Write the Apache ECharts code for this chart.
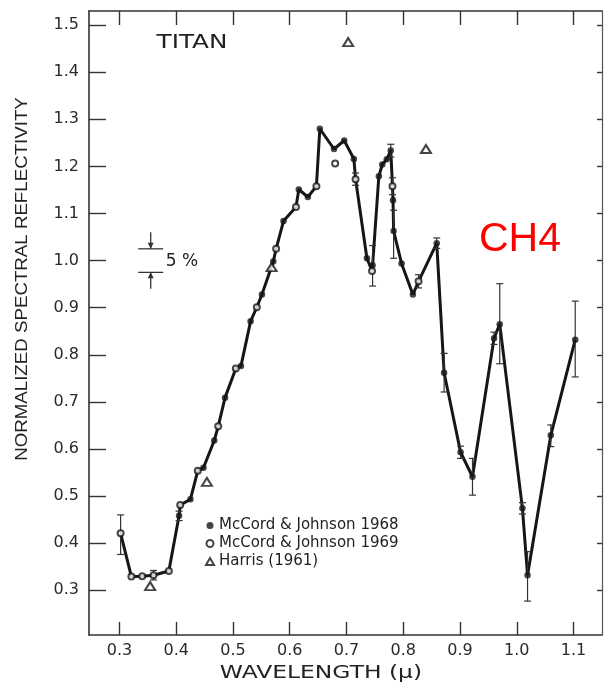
<!DOCTYPE html>
<html>
<head>
<meta charset="utf-8">
<script src="https://cdn.jsdelivr.net/npm/echarts@6/dist/echarts.min.js"></script>
<style>
  html, body { margin: 0; padding: 0; background: #fff; }
  #chart { width: 616px; height: 684px; }
</style>
</head>
<body>
<div id="chart"></div>
<script>
// Axis tick values
const xTicks = [0.3, 0.4, 0.5, 0.6, 0.7, 0.8, 0.9, 1.0, 1.1];
const yTicks = [0.3, 0.4, 0.5, 0.6, 0.7, 0.8, 0.9, 1.0, 1.1, 1.2, 1.3, 1.4, 1.5];

// [wavelength (micron), normalized reflectivity]
const mj1968 = [
  [0.405, 0.458], [0.425, 0.493], [0.448, 0.560], [0.467, 0.618], [0.486, 0.709],
  [0.514, 0.776], [0.531, 0.871], [0.551, 0.928], [0.571, 0.998], [0.589, 1.084],
  [0.616, 1.151], [0.632, 1.135], [0.653, 1.280], [0.678, 1.237], [0.696, 1.255],
  [0.713, 1.216], [0.736, 1.005], [0.746, 0.990], [0.757, 1.179], [0.763, 1.204],
  [0.771, 1.215], [0.778, 1.234], [0.782, 1.128], [0.783, 1.063], [0.797, 0.994],
  [0.817, 0.928], [0.859, 1.037], [0.872, 0.762], [0.901, 0.593], [0.922, 0.541],
  [0.960, 0.835], [0.970, 0.865], [1.010, 0.474], [1.019, 0.332], [1.060, 0.629],
  [1.103, 0.832]
];
const mj1969 = [
  [0.302, 0.421], [0.321, 0.329], [0.340, 0.330], [0.360, 0.332], [0.387, 0.341],
  [0.407, 0.481], [0.438, 0.554], [0.474, 0.648], [0.505, 0.771], [0.542, 0.901],
  [0.576, 1.025], [0.611, 1.114], [0.647, 1.158], [0.680, 1.206], [0.716, 1.173],
  [0.745, 0.978], [0.781, 1.158], [0.827, 0.956]
];
const harris1961 = [
  [0.354, 0.309], [0.454, 0.530], [0.568, 0.986], [0.703, 1.464], [0.840, 1.237]
];
// 1969 readings plotted beside the curve rather than on it (wavelengths)
const offCurve = [0.680];

// [wavelength, low, high]
const errorBars = [
  [0.302, 0.376, 0.460], [0.360, 0.322, 0.342], [0.405, 0.448, 0.468],
  [0.716, 1.160, 1.186], [0.746, 0.946, 1.032], [0.778, 1.220, 1.247],
  [0.781, 1.140, 1.176], [0.783, 1.005, 1.107], [0.827, 0.942, 0.970],
  [0.859, 1.026, 1.048], [0.872, 0.721, 0.803], [0.901, 0.580, 0.606],
  [0.922, 0.502, 0.580], [0.960, 0.822, 0.848], [0.970, 0.781, 0.951],
  [1.010, 0.462, 0.486], [1.019, 0.277, 0.382], [1.060, 0.605, 0.651],
  [1.103, 0.753, 0.914]
];

// Continuous trace through both McCord & Johnson data sets
const curve = mj1968
  .concat(mj1969.filter(p => offCurve.indexOf(p[0]) < 0))
  .sort((a, b) => a[0] - b[0]);

const INK = '#161616';
const FONT = '"DejaVu Sans", sans-serif';

const chart = echarts.init(document.getElementById('chart'), null, { renderer: 'canvas' });

const fmt = v => v.toFixed(1);

const option = {
  backgroundColor: '#fff',
  animation: false,
  grid: { left: 89, right: 14, top: 11, bottom: 49, containLabel: false },
  xAxis: [
    {
      type: 'value', position: 'bottom', min: 0.2463, max: 1.1502,
      axisLine: { show: true, onZero: false, lineStyle: { color: '#333', width: 1.6 } },
      axisTick: { show: true, inside: true, length: 13, customValues: xTicks, lineStyle: { color: '#333', width: 1.4 } },
      axisLabel: { customValues: xTicks, formatter: fmt, color: '#2a2a2a', fontSize: 16, fontFamily: FONT, margin: 8 },
      splitLine: { show: false }
    },
    {
      type: 'value', position: 'top', min: 0.2463, max: 1.1502,
      axisLine: { show: true, onZero: false, lineStyle: { color: '#333', width: 1.6 } },
      axisTick: { show: true, inside: true, length: 14, customValues: xTicks, lineStyle: { color: '#333', width: 1.4 } },
      axisLabel: { show: false },
      splitLine: { show: false }
    }
  ],
  yAxis: [
    {
      type: 'value', position: 'left', min: 0.205, max: 1.53,
      axisLine: { show: true, onZero: false, lineStyle: { color: '#333', width: 1.6 } },
      axisTick: { show: true, inside: true, length: 17, customValues: yTicks, lineStyle: { color: '#333', width: 1.4 } },
      axisLabel: { customValues: yTicks, formatter: fmt, color: '#2a2a2a', fontSize: 16, fontFamily: FONT, margin: 10 },
      splitLine: { show: false }
    },
    {
      type: 'value', position: 'right', min: 0.205, max: 1.53,
      axisLine: { show: true, onZero: false, lineStyle: { color: '#555', width: 1.2 } },
      axisTick: { show: true, inside: true, length: 5, customValues: yTicks, lineStyle: { color: '#333', width: 1.4 } },
      axisLabel: { show: false },
      splitLine: { show: false }
    }
  ],
  legend: {
    orient: 'vertical', left: 200, top: 513, itemGap: 3,
    itemWidth: 8, itemHeight: 7,
    textStyle: { fontSize: 15, fontFamily: FONT, color: '#222', lineHeight: 15 },
    data: [
      { name: 'McCord & Johnson 1968', icon: 'circle' },
      { name: 'McCord & Johnson 1969', icon: 'emptyCircle' },
      { name: 'Harris (1961)', icon: 'emptyTriangle' }
    ]
  },
  graphic: [
    {
      type: 'text', x: 192, y: 43, scaleX: 1.3,
      style: { text: 'TITAN', font: '19px ' + FONT, fill: '#222', align: 'center', verticalAlign: 'middle' }
    },
    {
      type: 'text', x: 321, y: 673, scaleX: 1.3,
      style: { text: 'WAVELENGTH (\u03bc)', font: '18px ' + FONT, fill: '#222', align: 'center', verticalAlign: 'middle' }
    },
    {
      type: 'text', x: 22, y: 279, rotation: Math.PI / 2, scaleX: 1.1,
      style: { text: 'NORMALIZED SPECTRAL REFLECTIVITY', font: '17px "Liberation Sans", sans-serif', fill: '#222', align: 'center', verticalAlign: 'middle' }
    },
    {
      type: 'text', x: 182, y: 262,
      style: { text: '5 %', font: '17px ' + FONT, fill: '#222', align: 'center', verticalAlign: 'middle' }
    },
    {
      type: 'text', x: 520, y: 240,
      style: { text: 'CH4', font: '41px "Liberation Sans", sans-serif', fill: '#ff0000', align: 'center', verticalAlign: 'middle' }
    }
  ],
  series: [
    {
      name: 'trace', type: 'line', data: curve, symbol: 'none', z: 2,
      lineStyle: { color: INK, width: 3 }, silent: true
    },
    {
      name: 'errors', type: 'custom', data: errorBars, z: 3, silent: true,
      encode: { x: 0, y: [1, 2] },
      renderItem: function (params, api) {
        const w = api.value(0);
        const lo = api.coord([w, api.value(1)]);
        const hi = api.coord([w, api.value(2)]);
        const cap = 3.5;
        const st = { stroke: '#333', lineWidth: 1.2 };
        return {
          type: 'group',
          children: [
            { type: 'line', shape: { x1: lo[0], y1: lo[1], x2: hi[0], y2: hi[1] }, style: st },
            { type: 'line', shape: { x1: lo[0] - cap, y1: lo[1], x2: lo[0] + cap, y2: lo[1] }, style: st },
            { type: 'line', shape: { x1: hi[0] - cap, y1: hi[1], x2: hi[0] + cap, y2: hi[1] }, style: st }
          ]
        };
      }
    },
    {
      name: '5% scale', type: 'custom', data: [[0.355, 1.0]], z: 3, silent: true,
      renderItem: function (params, api) {
        const w = api.value(0), c = api.value(1);
        const a = api.coord([w - 0.022, c + 0.025]);
        const b = api.coord([w + 0.022, c + 0.025]);
        const d = api.coord([w - 0.022, c - 0.025]);
        const e = api.coord([w + 0.022, c - 0.025]);
        const top = api.coord([w, c + 0.06]);
        const bot = api.coord([w, c - 0.06]);
        const st = { stroke: '#333', lineWidth: 1.3 };
        const head = 3;
        return {
          type: 'group',
          children: [
            { type: 'line', shape: { x1: a[0], y1: a[1], x2: b[0], y2: b[1] }, style: st },
            { type: 'line', shape: { x1: d[0], y1: d[1], x2: e[0], y2: e[1] }, style: st },
            { type: 'line', shape: { x1: top[0], y1: top[1], x2: top[0], y2: a[1] }, style: st },
            { type: 'line', shape: { x1: bot[0], y1: bot[1], x2: bot[0], y2: d[1] }, style: st },
            { type: 'polygon', shape: { points: [[top[0] - head, a[1] - 6], [top[0] + head, a[1] - 6], [top[0], a[1]]] }, style: { fill: '#333' } },
            { type: 'polygon', shape: { points: [[bot[0] - head, d[1] + 6], [bot[0] + head, d[1] + 6], [bot[0], d[1]]] }, style: { fill: '#333' } }
          ]
        };
      }
    },
    {
      name: 'McCord & Johnson 1968', type: 'scatter', data: mj1968, z: 5,
      symbol: 'circle', symbolSize: 6.5,
      itemStyle: { color: INK }
    },
    {
      name: 'McCord & Johnson 1969', type: 'scatter', data: mj1969, z: 5,
      symbol: 'emptyCircle', symbolSize: 6,
      itemStyle: { color: INK, borderColor: INK, borderWidth: 1 }
    },
    {
      name: 'Harris (1961)', type: 'scatter', data: harris1961, z: 5,
      symbol: 'emptyTriangle', symbolSize: [10, 8],
      itemStyle: { color: INK, borderColor: INK, borderWidth: 1 }
    }
  ]
};

chart.setOption(option);
</script>
</body>
</html>
